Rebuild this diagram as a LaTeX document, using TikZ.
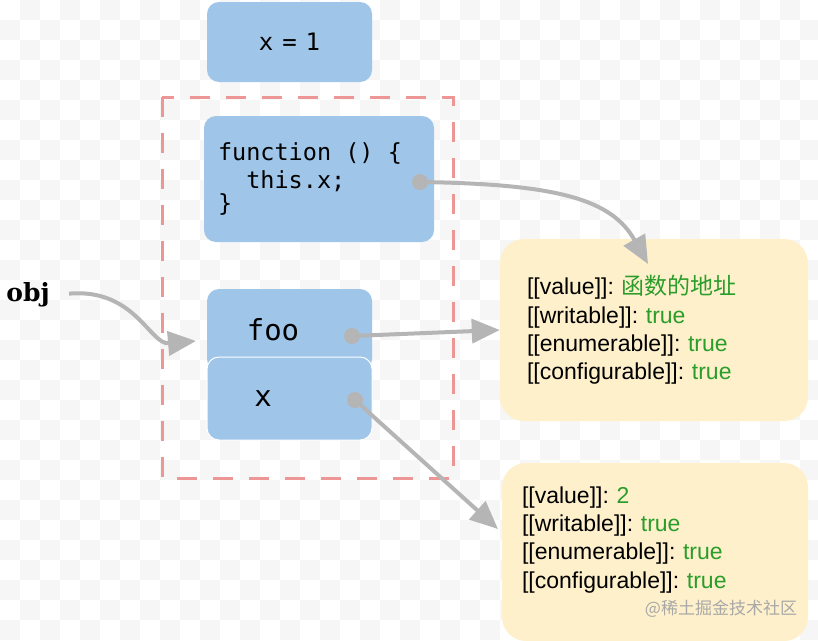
\documentclass[tikz,border=0pt]{standalone}
\usepackage{fontspec}
\usepackage{xcolor}
\newfontfamily\uisans{Liberation Sans}
\newfontfamily\objserif{DejaVu Serif}
\setmonofont{DejaVu Sans Mono}
\newfontfamily\cjk{Noto Sans CJK SC}
\usetikzlibrary{arrows.meta}

\definecolor{cellblue}{HTML}{9FC5E8}
\definecolor{descyellow}{HTML}{FEF0CB}
\definecolor{valgreen}{HTML}{2A9D2A}
\definecolor{linkgray}{HTML}{B5B5B5}
\definecolor{framered}{HTML}{EC9696}
\definecolor{checker}{HTML}{F6F6F6}
\definecolor{markgray}{HTML}{A8A8A8}

\newcommand{\val}[1]{\textcolor{valgreen}{#1}}
\newcommand{\attr}[1]{{[[}#1{]]}:}
\frenchspacing

\begin{document}
\begin{tikzpicture}[x=1pt,y=-1pt,
    cell/.style={fill=cellblue,rounded corners=12pt,minimum width=165pt,inner sep=0pt},
    desc/.style={fill=descyellow,rounded corners=24pt,minimum width=308pt,text width=254pt,
        inner xsep=27pt,align=left,font=\uisans\fontsize{23}{28.3}\selectfont},
    dot/.style={circle,fill=linkgray,inner sep=0pt,minimum size=16pt},
    link/.style={draw=linkgray,line width=4pt,-{Triangle[length=28pt,width=24pt]}}]
    \useasboundingbox (0,0) rectangle (818,640);
    % background checker
    \foreach \r in {0,...,31}
        \foreach \c in {0,...,40}{
            \pgfmathparse{int(mod(\r+\c,2))}
            \ifnum\pgfmathresult=1
                \fill[checker] (\c*20,\r*20) rectangle ++(20,20);
            \fi
        }

    \node[cell,minimum height=80pt] (xone) at (289.5,42) {\ttfamily\fontsize{24}{28}\selectfont x\hspace{9pt}=\hspace{9pt}1};

    \draw[framered,line width=3pt,dash pattern=on 20pt off 16pt] (162,97) rectangle (453,478);

    \node[cell,minimum width=230pt,minimum height=126pt,align=left,text width=202pt,inner xsep=14pt]
        (func) at (319,179) {\ttfamily\fontsize{23.5}{28}\selectfont
        function\phantom{x}()\phantom{x}\{\\\phantom{xx}this.x;\\\}};

    \node[cell,minimum height=82pt] (foo) at (289.5,330) {};
    \node[cell,minimum height=83pt,draw=white,line width=1pt] (x) at (289.5,398.5) {};
    \node (fooname) at (273,330) {\ttfamily\fontsize{29}{30}\selectfont foo};
    \node (xname) at (263,399) {\ttfamily\fontsize{29}{30}\selectfont x};

    \node[dot] (funcdot) at (420,182) {};
    \node[dot] (foodot) at (352,336) {};
    \node[dot] (xdot) at (355,400) {};

    \node[desc,minimum height=182pt] (fooattr) at (654,330) {%
        \attr{value} \val{\cjk 函数的地址}\\
        \attr{writable} \val{true}\\
        \attr{enumerable} \val{true}\\
        \attr{configurable} \val{true}};
    \node[desc,minimum width=306pt,text width=266pt,inner xsep=20pt,minimum height=178pt] (xattr) at (655,552) {%
        \attr{value} \val{2}\\
        \attr{writable} \val{true}\\
        \attr{enumerable} \val{true}\\
        \attr{configurable} \val{true}\\[-2pt]
        \hfill\mbox{\color{markgray}\cjk\fontsize{17}{20}\selectfont @稀土掘金技术社区}\kern-9pt};

    \node[font=\objserif\bfseries\fontsize{25}{30}\selectfont] (obj) at (28,295) {obj};

    \coordinate (objin) at (196,341);
    \coordinate (funcin) at (648,264);
    \coordinate (xin) at (498,529);

    \draw[link,shorten <=16pt] (obj.east) .. controls (135,288) and (150,345) .. (objin);
    \draw[link] (funcdot.center) .. controls (560,184) and (612,200) .. (funcin);
    \draw[link] (foodot.center) -- (fooattr.west);
    \draw[link] (xdot.center) -- (xin);
\end{tikzpicture}
\end{document}
